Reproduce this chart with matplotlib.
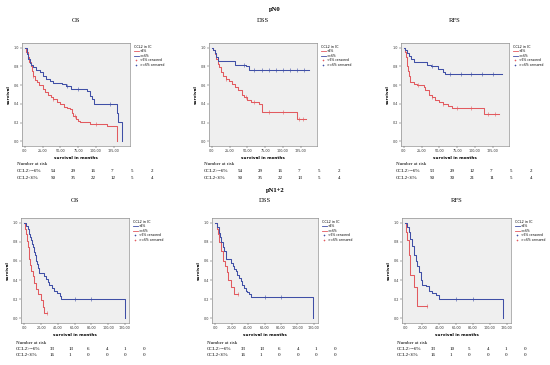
import numpy as np
import matplotlib
matplotlib.use("Agg")
import matplotlib.pyplot as plt
from matplotlib.lines import Line2D

# ---------------- data ----------------
groups = ["pN0", "pN1+2"]
endpoints = ["OS", "DSS", "RFS"]

# top row (pN0): red = worse curve, blue = better curve
n0_os_red_t = [0, 2, 4, 6, 8, 10, 12, 14, 17, 20, 25, 28, 33, 37, 40, 45, 50, 55, 60, 63, 66, 68, 72, 75, 78, 92, 115, 130]
n0_os_red_s = [1.0, .95, .90, .85, .80, .75, .70, .66, .63, .60, .56, .53, .50, .47, .45, .42, .40, .37, .36, .34, .30, .27, .24, .22, .21, .19, .16, 0.0]
n0_os_blue_t = [0, 3, 5, 7, 9, 12, 16, 22, 26, 30, 35, 40, 52, 58, 65, 88, 91, 95, 98, 128, 129, 131, 137]
n0_os_blue_s = [1.0, .93, .88, .84, .81, .79, .76, .74, .70, .67, .64, .62, .61, .59, .56, .54, .48, .45, .40, .40, .30, .21, 0.0]

n0_dss_red_t = [0, 2, 4, 6, 8, 10, 13, 16, 20, 24, 28, 33, 37, 42, 45, 50, 55, 66, 70, 118, 120, 133]
n0_dss_red_s = [1.0, .97, .93, .88, .83, .79, .74, .70, .67, .64, .61, .58, .55, .50, .47, .44, .42, .40, .31, .31, .24, .24]
n0_dss_blue_t = [0, 2, 4, 6, 8, 28, 32, 48, 52, 137]
n0_dss_blue_s = [1.0, .97, .94, .90, .86, .86, .82, .80, .76, .76]

n0_rfs_red_t = [0, 2, 3, 4, 5, 6, 7, 8, 9, 14, 18, 28, 30, 35, 40, 44, 50, 55, 62, 68, 112, 113, 134]
n0_rfs_red_s = [1.0, .95, .90, .85, .80, .75, .70, .66, .63, .61, .60, .58, .55, .50, .47, .44, .42, .40, .38, .36, .36, .29, .29]
n0_rfs_blue_t = [0, 2, 4, 7, 10, 14, 30, 33, 38, 48, 55, 58, 138]
n0_rfs_blue_s = [1.0, .97, .94, .91, .88, .85, .85, .82, .80, .77, .74, .72, .72]

# bottom row (pN1+2)
n12_os_blue_t = [0, 2, 4, 5, 6, 7, 8, 9, 10, 11, 12, 13, 14, 15, 16, 17, 18, 22, 24, 26, 28, 30, 33, 36, 39, 42, 44, 120]
n12_os_blue_s = [1.0, .97, .94, .91, .88, .85, .82, .78, .75, .72, .69, .66, .60, .57, .53, .50, .47, .47, .44, .41, .38, .35, .32, .29, .26, .23, .20, 0.0]
n12_os_red_t = [0, 1, 2, 3, 4, 5, 6, 7, 8, 10, 12, 14, 16, 20, 22, 24, 27]
n12_os_red_s = [1.0, .94, .88, .81, .75, .69, .62, .56, .50, .44, .37, .31, .25, .19, .12, .06, .06]

n12_dss_blue_t = [0, 2, 4, 5, 6, 7, 9, 11, 13, 19, 21, 23, 25, 27, 29, 31, 33, 35, 37, 39, 41, 44, 119]
n12_dss_blue_s = [1.0, .96, .93, .89, .85, .80, .75, .70, .62, .58, .55, .52, .49, .45, .42, .39, .35, .32, .29, .27, .25, .22, 0.0]
n12_dss_red_t = [0, 1.5, 3, 5, 7, 9, 12, 14, 16, 19, 23, 28]
n12_dss_red_s = [1.0, .94, .88, .80, .70, .60, .55, .48, .40, .33, .25, .25]

n12_rfs_blue_t = [0, 2, 4, 6, 8, 10, 12, 14, 16, 18, 20, 24, 28, 32, 36, 40, 116]
n12_rfs_blue_s = [1.0, .96, .90, .83, .76, .66, .60, .55, .48, .40, .35, .34, .29, .26, .24, .20, 0.0]
n12_rfs_red_t = [0, 1, 2, 4, 6, 10, 14, 26]
n12_rfs_red_s = [1.0, .90, .82, .66, .45, .33, .13, .13]

# censor marks (months)
n0_os_red_c = [12, 40, 70, 100]
n0_os_blue_c = [60, 75, 120]
n0_dss_red_c = [20, 48, 60, 80, 100, 122, 128]
n0_dss_blue_c = [45, 60, 70, 80, 90, 100, 110, 120, 130]
n0_rfs_red_c = [20, 40, 55, 75, 95, 118, 128]
n0_rfs_blue_c = [40, 65, 80, 95, 110, 125]
n12_os_blue_c = [60, 80]
n12_os_red_c = [27]
n12_dss_blue_c = [60, 80]
n12_dss_red_c = [28]
n12_rfs_blue_c = [60, 80]
n12_rfs_red_c = [26]

# numbers at risk
risk_labels = ["CCL2>=6%", "CCL2<6%"]
risk_n0 = [
    ([54, 29, 16, 7, 5, 2], [50, 35, 22, 12, 5, 4]),
    ([54, 29, 16, 7, 5, 2], [50, 35, 22, 13, 5, 4]),
    ([53, 29, 12, 7, 5, 2], [50, 30, 21, 11, 5, 4]),
]
risk_n12 = [
    ([33, 13, 6, 4, 1, 0], [16, 1, 0, 0, 0, 0]),
    ([33, 13, 6, 4, 1, 0], [16, 1, 0, 0, 0, 0]),
    ([33, 10, 5, 4, 1, 0], [16, 1, 0, 0, 0, 0]),
]

xt_top = [0, 25, 50, 75, 100, 125]
xt_top_lab = [",00", "25,00", "50,00", "75,00", "100,00", "125,00"]
xt_bot = [0, 20, 40, 60, 80, 100, 120]
xt_bot_lab = [",00", "20,00", "40,00", "60,00", "80,00", "100,00", "120,00"]
yt = [0.0, 0.2, 0.4, 0.6, 0.8, 1.0]
yt_lab = ["0,0", "0,2", "0,4", "0,6", "0,8", "1,0"]

# ---------------- style ----------------
RED = "#e25a5f"
BLUE = "#3f4fa6"
BG = "#efefef"
W, H = 550, 365
SERIF = ["Liberation Serif", "DejaVu Serif"]

fig = plt.figure(figsize=(5.5, 3.65), dpi=100, facecolor="white")


def fx(x):
    return x / W


def fy(y):
    return 1 - y / H


def step_val(t, s, x):
    i = np.searchsorted(t, x, side="right") - 1
    return s[max(i, 0)]


def km_panel(left, top, right, bottom, curves, xt, xtl, xmax, legend_order):
    ax = fig.add_axes([fx(left), fy(bottom), fx(right - left), (bottom - top) / H])
    ax.set_facecolor(BG)
    for t, s, c, col in curves:
        t = np.array(t, float)
        s = np.array(s, float)
        ax.step(t, s, where="post", color=col, lw=0.75)
        ct = np.array(c, float)
        cs = [step_val(t, s, v) for v in ct]
        ax.plot(ct, cs, ls="none", marker="|", ms=2.2, mew=0.4, color=col)
    ax.set_xlim(-4, xmax)
    ax.set_ylim(-0.05, 1.05)
    ax.set_xticks(xt)
    ax.set_xticklabels(xtl)
    ax.set_yticks(yt)
    ax.set_yticklabels(yt_lab)
    ax.tick_params(labelsize=2.4, length=1.2, width=0.3, pad=1, colors="#333333")
    for sp in ax.spines.values():
        sp.set_linewidth(0.4)
        sp.set_color("#777777")
    ax.set_xlabel("survival in months", fontsize=3, fontweight="bold", labelpad=2)
    ax.set_ylabel("survival", fontsize=3, fontweight="bold", labelpad=2)
    hs = []
    labs = []
    for lab, col, cens in legend_order:
        if cens:
            hs.append(Line2D([], [], color=col, lw=0, marker="+", ms=2, mew=0.4))
        else:
            hs.append(Line2D([], [], color=col, lw=0.6))
        labs.append(lab)
    leg = ax.legend(hs, labs, title="CCL2 in IC", loc="upper left",
                    bbox_to_anchor=(1.02, 1.0), frameon=False, fontsize=2.2,
                    title_fontsize=2.4, handlelength=1.6, handletextpad=0.4,
                    labelspacing=0.15, borderaxespad=0.2)
    leg._legend_box.align = "left"
    return ax


def risk_table(left, y0, dy, rows, step):
    fig.text(fx(left - 5), fy(y0), "Number at risk", fontsize=3.6, family=SERIF, va="center")
    for r, (lab, vals) in enumerate(zip(risk_labels, rows)):
        yy = y0 + dy * (r + 1)
        fig.text(fx(left - 5), fy(yy), lab, fontsize=3.6, family=SERIF, va="center")
        for i, v in enumerate(vals):
            fig.text(fx(left + 29 + step * i), fy(yy), str(v), fontsize=3.6,
                     family=SERIF, va="center", ha="left")


leg_top = [("<6%", RED, False), (">=6%", BLUE, False),
           ("<6% censored", RED, True), (">=6% censored", BLUE, True)]
leg_bot = [("<6%", BLUE, False), (">=6%", RED, False),
           ("<6% censored", BLUE, True), (">=6% censored", RED, True)]

top_curves = [
    [(n0_os_red_t, n0_os_red_s, n0_os_red_c, RED), (n0_os_blue_t, n0_os_blue_s, n0_os_blue_c, BLUE)],
    [(n0_dss_red_t, n0_dss_red_s, n0_dss_red_c, RED), (n0_dss_blue_t, n0_dss_blue_s, n0_dss_blue_c, BLUE)],
    [(n0_rfs_red_t, n0_rfs_red_s, n0_rfs_red_c, RED), (n0_rfs_blue_t, n0_rfs_blue_s, n0_rfs_blue_c, BLUE)],
]
bot_curves = [
    [(n12_os_red_t, n12_os_red_s, n12_os_red_c, RED), (n12_os_blue_t, n12_os_blue_s, n12_os_blue_c, BLUE)],
    [(n12_dss_red_t, n12_dss_red_s, n12_dss_red_c, RED), (n12_dss_blue_t, n12_dss_blue_s, n12_dss_blue_c, BLUE)],
    [(n12_rfs_red_t, n12_rfs_red_s, n12_rfs_red_c, RED), (n12_rfs_blue_t, n12_rfs_blue_s, n12_rfs_blue_c, BLUE)],
]

top_x = [(22, 130), (209, 317), (401, 509)]
bot_x = [(21, 129), (212, 318), (402, 511)]

for i in range(3):
    l, r = top_x[i]
    km_panel(l, 43, r, 146, top_curves[i], xt_top, xt_top_lab, 148, leg_top)
    fig.text(fx((l + r) / 2), fy(21), endpoints[i], fontsize=4.8, family=SERIF,
             ha="center", va="center")
    risk_table(l, 164, 7, risk_n0[i], 20)

    l, r = bot_x[i]
    km_panel(l, 218, r, 323, bot_curves[i], xt_bot, xt_bot_lab, 125, leg_bot)
    fig.text(fx((l + r) / 2), fy(201), endpoints[i], fontsize=4.8, family=SERIF,
             ha="center", va="center")
    risk_table(l, 343, 6.2, risk_n12[i], 18.5)

fig.text(fx(275), fy(10), groups[0], fontsize=4.8, fontweight="bold", family=SERIF,
         ha="center", va="center")
fig.text(fx(275), fy(191), groups[1], fontsize=4.8, fontweight="bold", family=SERIF,
         ha="center", va="center")

fig.savefig("out.png", dpi=100, facecolor="white")
